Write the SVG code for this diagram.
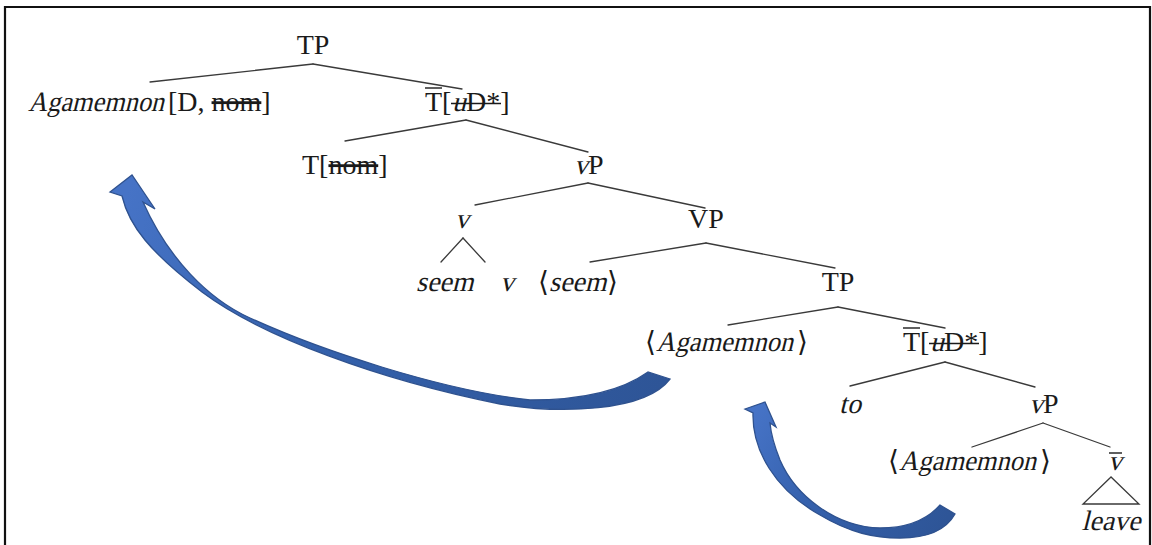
<svg xmlns="http://www.w3.org/2000/svg" width="1152" height="545" viewBox="0 0 1152 545">
<style>
  .t { font-family: "Liberation Serif", "DejaVu Serif", serif; font-size: 28px; fill: #1a1a1a; }
  .m { text-anchor: middle; }
  .s { text-decoration: line-through; }
  .edge { stroke: #3a3a3a; stroke-width: 1.3; fill: none; stroke-linecap: round; }
  .bar { stroke: #1a1a1a; stroke-width: 1.4; }
  .arrow { stroke: #2F528F; stroke-width: 1.3; stroke-linejoin: miter; }
</style>
<defs>
  <linearGradient id="gBig" gradientUnits="userSpaceOnUse" x1="660" y1="390" x2="130" y2="185">
    <stop offset="0" stop-color="#2E5597"/>
    <stop offset="0.6" stop-color="#3461AC"/>
    <stop offset="1" stop-color="#4673C6"/>
  </linearGradient>
  <linearGradient id="gSmall" gradientUnits="userSpaceOnUse" x1="950" y1="515" x2="762" y2="402">
    <stop offset="0" stop-color="#2E5597"/>
    <stop offset="0.6" stop-color="#3561AD"/>
    <stop offset="1" stop-color="#4673C6"/>
  </linearGradient>
</defs>
<rect width="1152" height="545" fill="#ffffff"/>
<path d="M5,546 V7 H1150 V546" fill="none" stroke="#111" stroke-width="2.2"/>

<g id="connectors">
  <line class="edge" x1="313" y1="64" x2="150" y2="82"/>
  <line class="edge" x1="313" y1="64" x2="462" y2="89"/>
  <line class="edge" x1="466" y1="120" x2="345" y2="141"/>
  <line class="edge" x1="466" y1="120" x2="588" y2="152"/>
  <line class="edge" x1="588" y1="183" x2="475" y2="205"/>
  <line class="edge" x1="588" y1="183" x2="705" y2="208"/>
  <line class="edge" x1="463" y1="238" x2="441" y2="262"/>
  <line class="edge" x1="463" y1="238" x2="485" y2="262"/>
  <line class="edge" x1="706" y1="243" x2="590" y2="262"/>
  <line class="edge" x1="706" y1="243" x2="835" y2="268"/>
  <line class="edge" x1="838" y1="307" x2="728" y2="325"/>
  <line class="edge" x1="838" y1="307" x2="945" y2="328"/>
  <line class="edge" x1="945" y1="362" x2="850" y2="386"/>
  <line class="edge" x1="945" y1="362" x2="1035" y2="387"/>
  <line class="edge" x1="1043" y1="423" x2="972" y2="447"/>
  <line class="edge" x1="1043" y1="423" x2="1110" y2="447"/>
  <path class="edge" d="M1111,477 L1083,504 L1139,504 Z"/>
  <path id="arrow-big" class="arrow" fill="url(#gBig)" d="M648,372 C620,392 580,400 530,400 C440,390 320,350 250,318 C208,299 168,258 143,202 L155,209 L132,175 L110,192 L122,196 C129,226 150,252 202,292 C262,337 380,380 500,404 C560,414 645,412 670,379 Z"/>
  <path id="arrow-small" class="arrow" fill="url(#gSmall)" d="M940,505 C925,522 905,528 880,528 C835,527 795,495 780,460 C774,445 771,435 770,423 L776,427 L765,402 L745,409 L753,413 C752,450 775,490 820,515 C850,533 875,538 900,538 C925,538 945,532 955,514 Z"/>
</g>

<g id="n-tp1"><text class="t m" x="313" y="54">TP</text></g>
<g id="n-agamemnon1">
  <text class="t" transform="translate(28,111) skewX(-14)" textLength="136" lengthAdjust="spacingAndGlyphs">Agamemnon</text>
  <text class="t" x="168" y="111">[D, <tspan class="s">nom</tspan>]</text>
</g>
<g id="n-tbar1">
  <text class="t" x="425" y="111">T[</text>
  <text class="t" transform="translate(452,111) skewX(-14)">u</text>
  <text class="t" x="466" y="111">D*]</text>
  <line class="bar" x1="425" y1="88" x2="442" y2="88"/>
  <line class="bar" x1="451" y1="103.5" x2="501" y2="103.5"/>
</g>
<g id="n-t"><text class="t" x="302" y="174">T[<tspan class="s">nom</tspan>]</text></g>
<g id="n-vp1">
  <text class="t" transform="translate(574,174) skewX(-14)">v</text>
  <text class="t" x="588" y="174">P</text>
</g>
<g id="n-v"><text class="t m" transform="translate(462,228) skewX(-14)">v</text></g>
<g id="n-VP"><text class="t m" x="706" y="228">VP</text></g>
<g id="n-seem"><text class="t" transform="translate(416,291) skewX(-14)">seem</text></g>
<g id="n-v2"><text class="t m" transform="translate(507,291) skewX(-14)">v</text></g>
<g id="n-seemtrace">
  <text class="t" x="538" y="291">⟨</text>
  <text class="t" transform="translate(549,291) skewX(-14)">seem</text>
  <text class="t" x="607" y="291">⟩</text>
</g>
<g id="n-tp2"><text class="t m" x="838" y="291">TP</text></g>
<g id="n-agamemnon2">
  <text class="t" x="645" y="351">⟨</text>
  <text class="t" transform="translate(656,351) skewX(-14)" textLength="137" lengthAdjust="spacingAndGlyphs">Agamemnon</text>
  <text class="t" x="797" y="351">⟩</text>
</g>
<g id="n-tbar2">
  <text class="t" x="903" y="351">T[</text>
  <text class="t" transform="translate(930,351) skewX(-14)">u</text>
  <text class="t" x="944" y="351">D*]</text>
  <line class="bar" x1="903" y1="328" x2="920" y2="328"/>
  <line class="bar" x1="929" y1="343.5" x2="979" y2="343.5"/>
</g>
<g id="n-to"><text class="t m" transform="translate(850,413) skewX(-14)">to</text></g>
<g id="n-vp2">
  <text class="t" transform="translate(1029,413) skewX(-14)">v</text>
  <text class="t" x="1043" y="413">P</text>
</g>
<g id="n-agamemnon3">
  <text class="t" x="888" y="470">⟨</text>
  <text class="t" transform="translate(899,470) skewX(-14)" textLength="137" lengthAdjust="spacingAndGlyphs">Agamemnon</text>
  <text class="t" x="1040" y="470">⟩</text>
</g>
<g id="n-vbar">
  <text class="t m" transform="translate(1115,470) skewX(-14)">v</text>
  <line class="bar" x1="1109" y1="453" x2="1122" y2="453"/>
</g>
<g id="n-leave"><text class="t m" transform="translate(1111,530) skewX(-14)">leave</text></g>
</svg>
